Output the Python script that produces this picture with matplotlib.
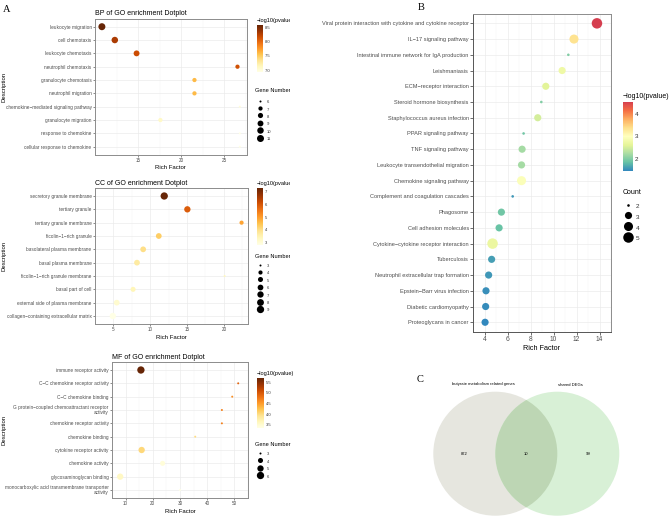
import numpy as np
import matplotlib
matplotlib.use('Agg')
import matplotlib.pyplot as plt
from matplotlib import font_manager
from matplotlib.colors import LinearSegmentedColormap, Normalize
from matplotlib.cm import ScalarMappable
from matplotlib.lines import Line2D
from matplotlib.patches import Circle
from matplotlib.transforms import Bbox

# ---------------- data ----------------
bp_terms = ['leukocyte migration', 'cell chemotaxis', 'leukocyte chemotaxis',
            'neutrophil chemotaxis', 'granulocyte chemotaxis', 'neutrophil migration',
            'chemokine\u2212mediated signaling pathway', 'granulocyte migration',
            'response to chemokine', 'cellular response to chemokine']
bp_rich = [10.77, 12.27, 14.8, 26.53, 21.53, 21.53, 26.8, 17.57, 26.8, 26.8]
bp_count = [11, 10, 9, 7, 7, 7, 6, 7, 6, 6]
bp_logp = [8.58, 8.30, 8.17, 8.14, 7.60, 7.60, 7.00, 7.10, 6.94, 6.94]
bp_xticks = [15, 20, 25]
bp_cticks = [7.0, 7.5, 8.0, 8.5]
bp_sizes = [6, 7, 8, 9, 10, 11]

cc_terms = ['secretory granule membrane', 'tertiary granule', 'tertiary granule membrane',
            'ficolin\u22121\u2212rich granule', 'basolateral plasma membrane',
            'basal plasma membrane', 'ficolin\u22121\u2212rich granule membrane',
            'basal part of cell', 'external side of plasma membrane',
            'collagen\u2212containing extracellular matrix']
cc_rich = [11.9, 15.04, 22.4, 11.16, 9.04, 8.2, 20.1, 7.67, 5.45, 4.92]
cc_count = [9, 7, 4, 6, 6, 6, 3, 5, 6, 7]
cc_logp = [7.3, 5.9, 4.9, 4.3, 4.0, 3.7, 3.3, 3.4, 3.1, 2.8]
cc_xticks = [5, 10, 15, 20]
cc_cticks = [3, 4, 5, 6, 7]
cc_sizes = [3, 4, 5, 6, 7, 8, 9]

mf_terms = ['immune receptor activity', 'C\u2212C chemokine receptor activity',
            'C\u2212C chemokine binding',
            'G protein\u2212coupled chemoattractant receptor\nactivity',
            'chemokine receptor activity', 'chemokine binding', 'cytokine receptor activity',
            'chemokine activity', 'glycosaminoglycan binding',
            'monocarboxylic acid transmembrane transporter\nactivity']
mf_rich = [15.63, 51.4, 49.2, 45.4, 45.4, 35.6, 15.9, 23.6, 8.0, 30.0]
mf_count = [6, 3, 3, 3, 3, 3, 5, 4, 5, 3]
mf_logp = [5.69, 4.9, 4.6, 4.7, 4.7, 4.0, 4.05, 3.45, 3.6, 3.36]
mf_xticks = [10, 20, 30, 40, 50]
mf_cticks = [3.5, 4.0, 4.5, 5.0, 5.5]
mf_sizes = [3, 4, 5, 6]

kegg_terms = ['Viral protein interaction with cytokine and cytokine receptor',
              'IL\u221217 signaling pathway', 'Intestinal immune network for IgA production',
              'Leishmaniasis', 'ECM\u2212receptor interaction', 'Steroid hormone biosynthesis',
              'Staphylococcus aureus infection', 'PPAR signaling pathway', 'TNF signaling pathway',
              'Leukocyte transendothelial migration', 'Chemokine signaling pathway',
              'Complement and coagulation cascades', 'Phagosome', 'Cell adhesion molecules',
              'Cytokine\u2212cytokine receptor interaction', 'Tuberculosis',
              'Neutrophil extracellular trap formation', 'Epstein\u2212Barr virus infection',
              'Diabetic cardiomyopathy', 'Proteoglycans in cancer']
kegg_rich = [13.78, 11.78, 11.29, 10.75, 9.33, 8.94, 8.63, 7.40, 7.27, 7.22, 7.22,
             6.45, 5.47, 5.27, 4.70, 4.62, 4.36, 4.13, 4.10, 4.05]
kegg_count = [5, 4, 2, 3, 3, 2, 3, 2, 3, 3, 4, 2, 3, 3, 5, 3, 3, 3, 3, 3]
kegg_logp = [4.55, 3.35, 2.0, 2.75, 2.6, 2.0, 2.5, 1.9, 2.2, 2.2, 2.95, 1.55, 1.9, 1.85,
             2.7, 1.6, 1.55, 1.5, 1.48, 1.45]
kegg_xticks = [4, 6, 8, 10, 12, 14]
kegg_cticks = [2, 3, 4]
kegg_sizes = [2, 3, 4, 5]

venn_sets = ['butyrate metabolism related genes', 'shared DEGs']
venn_counts = [872, 10, 99]   # left only, shared, right only

# ---------------- setup ----------------
W, H = 669, 517
installed = {f.name for f in font_manager.fontManager.ttflist}
SANS = ['Liberation Sans', 'DejaVu Sans']
HAS_NARROW = 'Liberation Sans Narrow' in installed
NARROW = ['Liberation Sans Narrow', 'Liberation Sans', 'DejaVu Sans'] if HAS_NARROW else SANS
NS = 1.0 if HAS_NARROW else 0.82
plt.rcParams['font.family'] = SANS
SERIF = ['Liberation Serif', 'DejaVu Serif']

fig = plt.figure(figsize=(W / 100, H / 100), dpi=100)
fig.patch.set_facecolor('white')

go_cmap = LinearSegmentedColormap.from_list(
    'go', ['#FFFFE5', '#FFF7BC', '#FEE391', '#FEC44F', '#FE9929', '#EC7014', '#CC4C02',
           '#993404', '#662506'])
kegg_cmap = LinearSegmentedColormap.from_list(
    'kegg', ['#3288BD', '#66C2A5', '#ABDDA4', '#E6F598', '#FFFFBF', '#FEE08B', '#FDAE61',
             '#F46D43', '#D53E4F'])


def px_axes(x0, y0, x1, y1):
    return fig.add_axes([x0 / W, 1 - y1 / H, (x1 - x0) / W, (y1 - y0) / H])


def diam_px(n, nmin, nmax, dmin, dmax):
    t = (np.asarray(n, float) - nmin) / (nmax - nmin)
    return dmin + (dmax - dmin) * np.sqrt(t)


def dotplot(ax, terms, rich, count, logp, cmap, dmin, dmax, xticks, fs_y, fs_x, fam,
            xlabel_fs, ylabel=None, ylabel_x=None, title=None, title_fs=5):
    n = len(terms)
    ypos = np.arange(n)[::-1]
    d = diam_px(count, min(count), max(count), dmin, dmax)
    ax.scatter(rich, ypos, s=(d * 0.72) ** 2, c=logp, cmap=cmap, vmin=min(logp),
               vmax=max(logp), edgecolors='none', zorder=3)
    lo, hi = min(rich), max(rich)
    pad = 0.05 * (hi - lo)
    ax.set_xlim(lo - pad, hi + pad)
    ax.set_ylim(-0.6, n - 0.4)
    ax.set_yticks(ypos)
    ax.set_yticklabels(terms, fontsize=fs_y, color='#4D4D4D', family=fam, linespacing=0.9)
    step = xticks[1] - xticks[0]
    ax.set_xticks(xticks)
    ax.set_xticklabels([str(t) for t in xticks], fontsize=fs_x, color='#4D4D4D', family=fam)
    minor = np.arange(xticks[0] - step / 2, xticks[-1] + step, step)
    ax.set_xticks(minor, minor=True)
    ax.tick_params(axis='x', which='minor', length=0)
    ax.tick_params(which='major', length=1.5, width=0.4, color='#333333', pad=1)
    ax.grid(which='major', color='#EBEBEB', lw=0.5, zorder=0)
    ax.grid(which='minor', axis='x', color='#F4F4F4', lw=0.35, zorder=0)
    ax.set_axisbelow(True)
    for sp in ax.spines.values():
        sp.set_color('#8C8C8C')
        sp.set_linewidth(0.7)
    ax.set_xlabel('Rich Factor', fontsize=xlabel_fs, family=fam, labelpad=1.5)
    if ylabel:
        ax.set_ylabel(ylabel, fontsize=xlabel_fs, family=fam, va='center')
        if ylabel_x is not None:
            pos = ax.get_position()
            ax.yaxis.set_label_coords((ylabel_x / W - pos.x0) / pos.width, 0.5)
    if title:
        ax.set_title(title, loc='left', fontsize=title_fs, family=fam, pad=2.5)


def colorbar(x0, y0, x1, y1, cmap, vmin, vmax, ticks, fmt, fs, title, title_fs, fam, clip=None):
    cax = px_axes(x0, y0, x1, y1)
    cb = fig.colorbar(ScalarMappable(Normalize(vmin, vmax), cmap), cax=cax)
    cb.outline.set_visible(False)
    cb.set_ticks(ticks)
    cb.set_ticklabels([fmt.format(t) for t in ticks])
    cax.tick_params(length=0, labelsize=fs, pad=1.5, labelcolor='#333333')
    for lab in cax.get_yticklabels():
        lab.set_family(fam)
    t = fig.text(x0 / W, 1 - (y0 - 2) / H, title, fontsize=title_fs, va='bottom', ha='left',
                 family=fam)
    if clip is not None:
        t.set_clip_box(Bbox.from_extents(0, 0, clip, H))
        t.set_clip_on(True)


def size_legend(ax, vals, dmin, dmax, mx, tx, y_first, spacing, fs, title, title_y, title_fs,
                fam, clip=None):
    d = diam_px(vals, min(vals), max(vals), dmin, dmax)
    handles = [Line2D([], [], marker='o', ls='', color='black', markersize=di * 0.72,
                      markeredgewidth=0) for di in d]
    fs_px = fs / 0.72
    hl = 2.0
    x0 = mx - fs_px
    htp = (tx - mx - fs_px) / fs_px
    hh = spacing / fs_px
    leg = ax.legend(handles, [str(v) for v in vals], loc='upper left',
                    bbox_to_anchor=(x0 / W, 1 - (y_first - spacing / 2) / H),
                    bbox_transform=fig.transFigure, frameon=False, fontsize=fs,
                    borderpad=0, borderaxespad=0, handlelength=hl, handletextpad=htp,
                    labelspacing=0, handleheight=hh, prop={'family': fam, 'size': fs})
    for txt in leg.get_texts():
        txt.set_color('#333333')
    t = fig.text((mx - 5) / W, 1 - title_y / H, title, fontsize=title_fs, va='center',
                 ha='left', family=fam)
    if clip is not None:
        t.set_clip_box(Bbox.from_extents(0, 0, clip, H))
        t.set_clip_on(True)
    return leg


# ---------------- panel A ----------------
A_YFS, A_XFS, A_LFS, A_TFS = 3.4, 3.3, 4.3, 5.0
A_LEGT, A_LEGF = 4.1, 3.0

axbp = px_axes(95, 18.7, 246.7, 154.7)
dotplot(axbp, bp_terms, bp_rich, bp_count, bp_logp, go_cmap, 2.0, 7.0, bp_xticks,
        A_YFS, A_XFS, SANS, A_LFS, ylabel='Description', ylabel_x=4.5,
        title='BP of GO enrichment Dotplot', title_fs=A_TFS)
colorbar(256.5, 25, 262.5, 72, go_cmap, min(bp_logp), max(bp_logp), bp_cticks, '{:.1f}',
         A_LEGF, '\u2212log10(pvalue)', A_LEGT, SANS, clip=290)
size_legend(axbp, bp_sizes, 2.0, 7.0, 260, 267, 103, 9.9, A_LEGF, 'Gene Number', 91, A_LEGT,
            SANS, clip=290)

axcc = px_axes(95, 188, 248, 324)
dotplot(axcc, cc_terms, cc_rich, cc_count, cc_logp, go_cmap, 2.0, 7.3, cc_xticks,
        A_YFS, A_XFS, SANS, A_LFS, ylabel='Description', ylabel_x=4.5,
        title='CC of GO enrichment Dotplot', title_fs=A_TFS)
colorbar(256.5, 188, 262.5, 245, go_cmap, min(cc_logp), max(cc_logp), cc_cticks, '{:d}',
         A_LEGF, '\u2212log10(pvalue)', A_LEGT, SANS, clip=290)
size_legend(axcc, cc_sizes, 2.0, 7.3, 260, 267, 267, 9.8, A_LEGF, 'Gene Number', 257, A_LEGT,
            SANS, clip=290)

axmf = px_axes(112, 362, 248, 498)
dotplot(axmf, mf_terms, mf_rich, mf_count, mf_logp, go_cmap, 2.0, 7.3, mf_xticks,
        A_YFS, A_XFS, SANS, A_LFS, ylabel='Description', ylabel_x=4.5,
        title='MF of GO enrichment Dotplot', title_fs=A_TFS)
colorbar(256.5, 378, 263.5, 428, go_cmap, min(mf_logp), max(mf_logp), mf_cticks, '{:.1f}',
         A_LEGF, '\u2212log10(pvalue)', A_LEGT, SANS)
size_legend(axmf, mf_sizes, 2.0, 7.3, 260, 267, 455, 10, A_LEGF, 'Gene Number', 444, A_LEGT,
            SANS)

# ---------------- panel B ----------------
axk = px_axes(473, 13.9, 611, 331.7)
dotplot(axk, kegg_terms, kegg_rich, kegg_count, kegg_logp, kegg_cmap, 2.6, 10.5,
        kegg_xticks, 4.95 * NS, 4.8, NARROW, 6.4 * NS)
axk.tick_params(which='major', length=2, width=0.5)
for sp in ('left', 'bottom'):
    axk.spines[sp].set_color('#555555')
colorbar(622.5, 101.7, 633, 171, kegg_cmap, min(kegg_logp), max(kegg_logp), kegg_cticks,
         '{:d}', 4.6, '\u2212log10(pvalue)', 6.1 * NS, NARROW)
size_legend(axk, kegg_sizes, 2.6, 10.5, 628, 636, 208, 14, 4.6, 'Count', 193, 6.1 * NS,
            NARROW)

# ---------------- panel C (Venn) ----------------
axv = px_axes(400, 368, 669, 517)
axv.set_xlim(400, 669)
axv.set_ylim(517, 368)
axv.axis('off')
r = 62
cl, cr, cy = 495.3, 557.3, 453.7
left = Circle((cl, cy), r, facecolor='#E6E6DF', edgecolor='none')
right = Circle((cr, cy), r, facecolor='#D8F0D6', edgecolor='none')
axv.add_patch(left)
axv.add_patch(right)
lens = Circle((cr, cy), r, facecolor='#BDD6B4', edgecolor='none')
axv.add_patch(lens)
clipc = Circle((cl, cy), r, transform=axv.transData)
lens.set_clip_path(clipc)
VFS = 3.0
axv.text(483, 384.5, venn_sets[0], fontsize=VFS, ha='center', va='center')
axv.text(570, 384.5, venn_sets[1], fontsize=VFS, ha='center', va='center')
axv.text(464.3, cy, str(venn_counts[0]), fontsize=VFS, ha='center', va='center')
axv.text(526.3, cy, str(venn_counts[1]), fontsize=VFS, ha='center', va='center')
axv.text(588.3, cy, str(venn_counts[2]), fontsize=VFS, ha='center', va='center')

# ---------------- panel letters ----------------
fig.text(7 / W, 1 - 9 / H, 'A', fontsize=7.5, family=SERIF, ha='center', va='center')
fig.text(421 / W, 1 - 8 / H, 'B', fontsize=7.5, family=SERIF, ha='center', va='center')
fig.text(420 / W, 1 - 379 / H, 'C', fontsize=7.5, family=SERIF, ha='center', va='center')

fig.savefig('out.png', dpi=100, facecolor='white')
